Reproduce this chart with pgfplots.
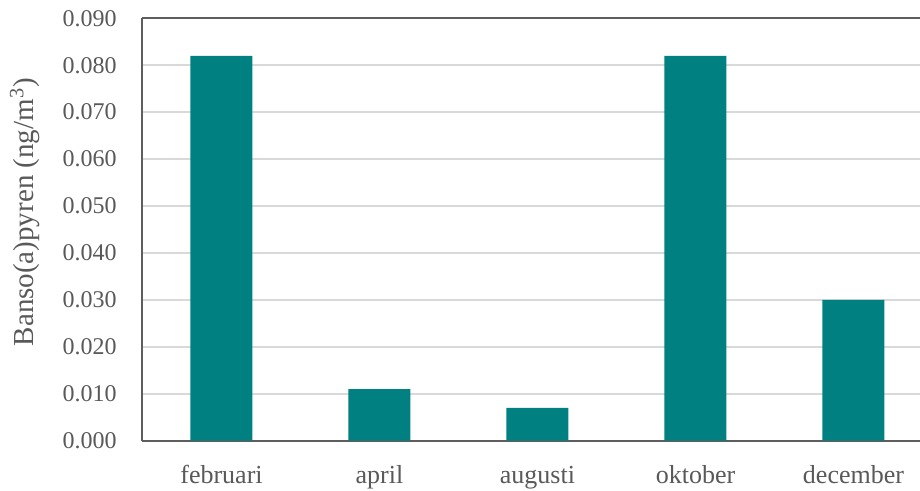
\documentclass[border=0pt]{standalone}
\usepackage{fontspec}
\setmainfont{Liberation Serif}
\usepackage{pgfplots}
\pgfplotsset{compat=1.18}
\definecolor{barteal}{HTML}{008080}
\definecolor{txtgray}{HTML}{595959}
\definecolor{gridgray}{HTML}{D9D9D9}
\definecolor{axgray}{HTML}{5E5E5E}

\begin{document}
\begin{tikzpicture}
\begin{axis}[
  scale only axis,
  width=388.75pt, height=211.2pt,
  xmin=-0.5, xmax=4.421,
  ymin=0, ymax=0.09,
  ytick={0,0.01,...,0.09},
  xtick={0,1,2,3,4},
  xticklabels={februari,april,augusti,oktober,december},
  axis x line*=bottom, axis y line*=left,
  axis line style={axgray, line width=1pt},
  major tick length=0pt,
  ymajorgrids,
  grid style={gridgray, line width=1pt},
  scaled y ticks=false,
  font=\fontsize{12pt}{14pt}\selectfont,
  tick label style={txtgray},
  yticklabel style={anchor=east, inner sep=0pt, xshift=-12.75pt,
    /pgf/number format/assume math mode=true,
    /pgf/number format/fixed, /pgf/number format/fixed zerofill,
    /pgf/number format/precision=3},
  xticklabel style={anchor=base, inner sep=0pt, yshift=-21.5pt,
    font=\fontsize{13pt}{15pt}\selectfont},
  ylabel={Banso(a)pyren (ng/m\textsuperscript{3})},
  every axis y label/.style={at={(axis description cs:-0.1511,0.541)}, rotate=90,
    anchor=center, txtgray, font=\fontsize{14.5pt}{16pt}\selectfont},
  clip=false,
]
\addplot[ybar, bar width=31pt, fill=barteal, draw=none] coordinates {
  (0,0.082) (1,0.011) (2,0.007) (3,0.082) (4,0.030)
};
\draw[axgray, line width=1pt] (rel axis cs:0,1) -- (rel axis cs:1,1);
\coordinate (o) at (rel axis cs:0,0);
\end{axis}
\pgfresetboundingbox
\path (o) ++(-71.25pt,-25.15pt) rectangle ++(460pt,245.5pt);
\end{tikzpicture}
\end{document}
